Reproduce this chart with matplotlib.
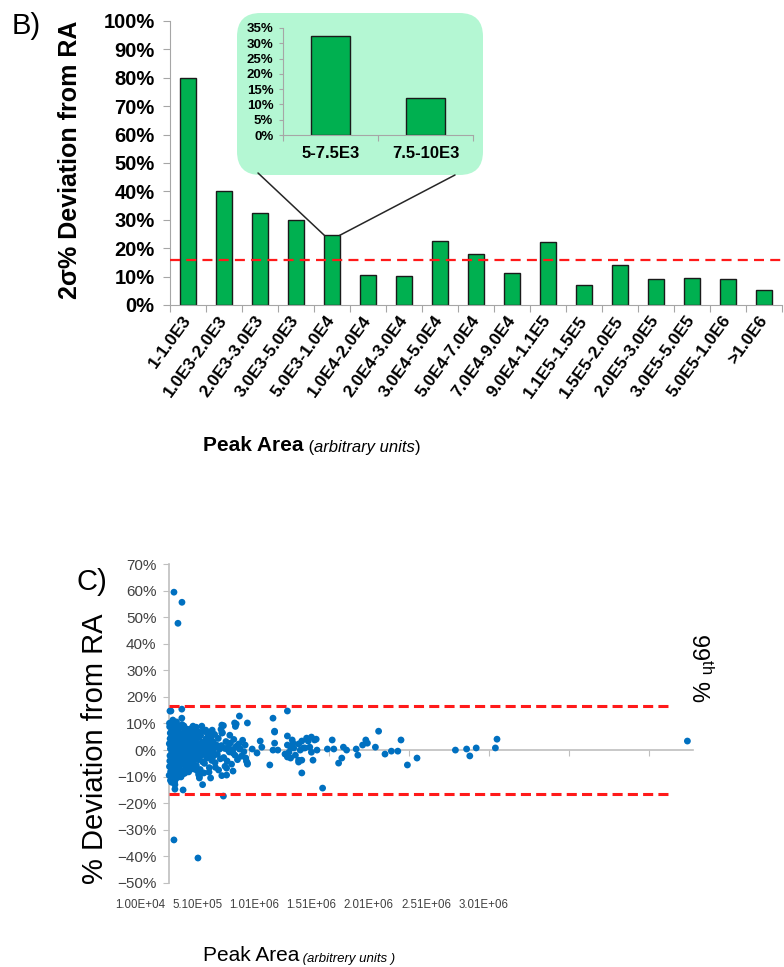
import numpy as np
import matplotlib.pyplot as plt
from matplotlib.patches import FancyBboxPatch, ConnectionPatch
from matplotlib.ticker import PercentFormatter

plt.rcParams['font.family'] = ['Liberation Sans', 'DejaVu Sans']
plt.rcParams['mathtext.fontset'] = 'custom'
plt.rcParams['mathtext.rm'] = 'Liberation Sans'

# ---- panel B data: 2 sigma deviation per peak area bin ----
bins = ["1-1.0E3", "1.0E3-2.0E3", "2.0E3-3.0E3", "3.0E3-5.0E3", "5.0E3-1.0E4",
        "1.0E4-2.0E4", "2.0E4-3.0E4", "3.0E4-5.0E4", "5.0E4-7.0E4", "7.0E4-9.0E4",
        "9.0E4-1.1E5", "1.1E5-1.5E5", "1.5E5-2.0E5", "2.0E5-3.0E5", "3.0E5-5.0E5",
        "5.0E5-1.0E6", ">1.0E6"]
dev_2sigma = [0.80, 0.40, 0.325, 0.30, 0.245, 0.105, 0.103, 0.224, 0.181, 0.111,
              0.222, 0.069, 0.142, 0.092, 0.094, 0.092, 0.054]
threshold_b = 0.16
zoom_bin = 4

inset_bins = ["5-7.5E3", "7.5-10E3"]
inset_dev = [0.324, 0.122]

# ---- panel C data: (peak area in thousands, % deviation from RA) ----
dense_pts = [
    (11, -9.5), (13, -6.2), (14, 8.8), (16, -2.1), (17, 4.3), (19, 0.5), (20, -8.1), (21, 9.6),
    (23, -4.4), (24, 2.7), (26, 6.9), (27, -10.2), (29, -0.8), (30, 3.9), (32, -6.7), (33, 7.8),
    (34, 1.2), (36, -3.3), (37, 9.9), (39, -8.8), (40, 5.4), (41, -1.6), (43, 0.2), (44, -5.2),
    (46, 8.1), (47, -9.3), (49, 3.1), (50, -2.9), (51, 6.1), (53, -7.2), (54, 1.8), (56, -0.4),
    (57, 4.9), (59, -4.8), (60, 9.2), (61, -10.4), (63, 2.2), (64, -6.0), (66, 7.0), (67, -1.1),
    (69, 0.9), (70, -8.4), (71, 5.8), (73, -3.7), (74, 3.4), (76, -5.6), (77, 8.6), (78, -0.1),
    (79, -9.8), (80, 1.5), (12, 2.4), (15, -4.1), (18, 6.4), (22, -1.9), (25, -7.3), (28, 0.6),
    (31, 5.1), (35, -5.9), (38, 2.9), (42, -3.9), (45, 7.4), (48, -0.3), (52, 4.2), (55, -8.9),
    (58, -2.5), (62, 6.6), (65, -4.6), (68, 2.8), (72, -6.8), (75, 0.0), (13, 10.1), (19, -11.4),
    (26, -12.1), (34, 11.3), (46, -11.8), (57, 10.6), (24, -3.0), (36, 3.6), (44, 1.0), (53, -1.4),
    (63, -2.2), (69, 5.0), (20, 1.7), (30, -1.2), (40, -0.6), (50, 0.7), (60, -0.9), (70, 2.0),
    (82, -7.6), (84, 3.0), (86, 6.2), (88, -2.4), (90, 0.8), (92, -5.1), (94, 8.4), (96, -0.7),
    (98, 2.5), (100, -3.5), (102, 5.6), (104, -8.0), (106, 1.1), (108, -1.8), (110, 4.0),
    (112, -6.3), (114, 7.1), (116, 0.3), (118, -4.2), (120, 2.1), (122, -0.5), (124, 5.2),
    (126, -7.0), (128, 1.4), (130, -2.7), (132, 3.5), (134, -5.4), (136, 0.1), (138, 6.6),
    (140, -1.3), (142, 2.9), (144, -3.8), (146, 4.6), (148, -0.2), (150, -6.1), (152, 1.9),
    (154, 3.8), (156, -2.0), (158, 0.6), (160, -4.5), (162, 5.0), (164, -1.0), (166, 2.3),
    (168, -3.1), (85, -10.1), (91, 9.6), (97, -9.0), (103, 9.1), (109, -8.7), (115, -2.8),
    (121, 7.9), (127, 4.4), (133, -8.2), (139, -4.7), (145, 8.0), (151, -5.5), (157, 6.9),
    (163, -7.1), (89, 4.8), (95, -4.9), (101, 1.6), (107, -0.9), (113, 3.3), (119, -1.5),
    (125, -3.4), (131, 0.4), (137, 2.6), (143, -0.6), (149, 1.3), (155, -1.7), (161, 0.2), (167, 4.1),
]
spread_pts = [
    (172, -2.6), (175, 3.9), (178, 0.7), (181, -5.8), (184, 6.1), (187, -0.4), (190, 2.2),
    (193, -3.6), (196, 4.7), (199, -1.2), (202, 1.0), (205, -7.3), (208, 5.5), (211, -2.1),
    (214, 0.5), (217, 3.0), (220, -4.4), (223, 7.2), (226, -0.8), (229, 1.8), (232, -5.0),
    (235, 2.7), (238, -1.5), (241, 4.2), (244, 0.0), (247, -3.0), (250, 6.3), (253, 1.2),
    (256, -2.4), (259, 3.4), (262, -6.6), (265, 0.9), (268, 2.1), (271, -1.0), (274, 4.8),
    (277, -3.9), (280, 1.5), (283, -0.3), (286, 3.1), (289, -2.2), (292, 0.8), (295, 5.9),
    (298, -4.7), (180, 8.6), (195, -9.2), (215, 9.0), (228, -8.6), (185, -7.7), (240, 7.5),
    (260, -8.3), (200, -10.5), (270, 6.8), (190, 7.0),
    (305, 2.0), (312, -1.6), (318, 4.4), (325, 0.3), (331, -3.3), (338, 1.7), (344, 6.5),
    (352, -2.8), (359, 0.6), (366, 3.2), (373, -4.1), (380, 1.1), (387, -0.7), (394, 2.6),
    (401, -5.3), (408, 0.2), (415, 4.0), (422, -1.9), (430, 1.4), (438, -3.6), (446, 2.3),
    (454, 0.5), (462, -2.3), (470, 3.7), (478, -0.6), (486, 1.9), (494, -4.2), (320, -7.5),
    (335, 7.8), (360, -6.1), (390, 5.6), (410, -7.9), (340, -9.6), (300, -6.5), (350, 9.2),
    (425, 8.9),
]
sparse_pts = [
    (41, 59.4), (91, 55.6), (66, 47.7), (41, -33.8), (191, -40.6),
    (16, 14.7), (22, 14.7), (90, 15.4), (90, 12.0), (160, 9.0), (750, 14.7), (660, 12.0),
    (450, 12.8), (500, 10.2), (420, 10.2), (430, 9.8), (340, 9.4), (340, 6.4), (280, 7.5),
    (250, 6.4), (670, 7.1), (670, 6.8), (1320, 7.1), (1460, 3.8),
    (350, -17.3), (970, -14.3), (840, -8.6), (270, -10.5), (220, -13.0), (200, -9.8),
    (98, -15.0), (47, -13.0), (47, -14.7), (370, -9.4), (370, -6.8), (1500, -5.6),
    (1560, -3.0), (500, -5.3), (640, -5.6),
    (590, 1.1), (580, 3.4), (560, -1.1), (530, 0.4), (500, -4.9), (490, -3.0), (450, 0.4),
    (410, -1.1), (380, 0.0), (660, 0.0), (670, 2.6), (690, 0.0), (735, -1.5), (750, -2.6),
    (750, 5.3), (770, 1.1), (785, 2.6), (820, -3.8), (830, 0.0), (860, 0.8), (880, 3.4),
    (900, 4.9), (930, 4.1), (935, 0.0), (1000, 0.4), (270, 4.5),
    (750, 1.9), (760, -0.8), (780, 3.8), (790, 0.8), (800, -1.9), (820, 2.3), (840, 3.4),
    (850, 0.8), (870, 4.5), (890, 1.1), (900, -0.8), (920, 3.8), (840, -3.8), (820, -4.5),
    (910, -3.8), (770, -3.0),
    (1030, 3.8), (1040, 0.4), (1070, -4.9), (1090, -3.0), (1100, 1.1), (1120, 0.0),
    (1180, 0.4), (1190, -1.9), (1220, 1.9), (1240, 3.8), (1250, 2.6), (1300, 1.1),
    (1360, -1.5), (1400, -0.4), (1440, -0.4),
    (1800, 0.0), (1870, 0.4), (1890, -2.2), (1930, 0.8), (2050, 0.8), (2060, 4.1), (3250, 3.4),
]
limit_c = 16.7
c_ticks = [1.0e4, 5.1e5, 1.01e6, 1.51e6, 2.01e6, 2.51e6, 3.01e6]
c_ticklabels = ["1.00E+04", "5.10E+05", "1.01E+06", "1.51E+06", "2.01E+06", "2.51E+06", "3.01E+06"]

GREEN = '#00b050'
GRAY = '#a6a6a6'
RED = '#ff1a1a'
BLUE = '#0070c0'
W, H = 784, 967

fig = plt.figure(figsize=(7.84, 9.67), dpi=100)

# ================= panel B =================
axb = fig.add_axes([170 / W, 662 / H, 612 / W, 284 / H])
axb.set_facecolor('none')
xb = np.arange(len(bins))
axb.bar(xb, dev_2sigma, width=0.42, color=GREEN, edgecolor='#1a1a1a', linewidth=1, zorder=2)
axb.axhline(threshold_b, color=RED, lw=1.6, dashes=(4.5, 2.8), zorder=3, clip_on=False)
axb.set_xlim(-0.5, len(bins) - 0.5)
axb.set_ylim(0, 1)
axb.set_yticks(np.arange(0, 1.01, 0.1))
axb.yaxis.set_major_formatter(PercentFormatter(1.0, decimals=0))
axb.set_xticks(np.arange(-0.5, len(bins), 1), labels=[''] * (len(bins) + 1))
axb.set_xticks(xb, labels=bins, minor=True)
axb.tick_params(axis='x', which='minor', length=0, pad=9)
axb.tick_params(axis='x', which='major', length=5, color=GRAY, direction='out')
axb.tick_params(axis='y', length=5, color=GRAY, pad=6)
for lab in axb.get_xticklabels(minor=True):
    lab.set(rotation=54, ha='right', va='center', rotation_mode='anchor',
            fontweight='bold', fontsize=12.5)
for lab in axb.get_yticklabels():
    lab.set(fontweight='bold', fontsize=14.5)
for s in ['top', 'right']:
    axb.spines[s].set_visible(False)
for s in ['left', 'bottom']:
    axb.spines[s].set_color(GRAY)

fig.text(12 / W, 1 - 26 / H, 'B)', fontsize=21, va='center', ha='left')
fig.text(70 / W, 1 - 160 / H, '2\u03c3% Deviation from RA', rotation=90, fontsize=18,
         fontweight='bold', ha='center', va='center')

tb = fig.text(203 / W, 1 - 451 / H, 'Peak Area', fontsize=15, fontweight='bold',
              va='baseline')
t = axb.annotate(' (', xy=(1, 0), xycoords=tb, va='bottom', fontsize=12)
t = axb.annotate('arbitrary units', xy=(1, 0), xycoords=t, va='bottom', fontsize=12,
                 style='italic')
axb.annotate(')', xy=(1, 0), xycoords=t, va='bottom', fontsize=12)

# inset box
box = FancyBboxPatch((237 / W, 792 / H), 246 / W, 162 / H,
                     boxstyle='round,pad=0,rounding_size=0.03', mutation_aspect=W / H,
                     transform=fig.transFigure, fc='#b4f7d3', ec='none', zorder=-1)
fig.add_artist(box)

for dx, bx, by in [(-0.21, 258, 173), (0.21, 455, 175)]:
    con = ConnectionPatch(xyA=(zoom_bin + dx, dev_2sigma[zoom_bin]), coordsA=axb.transData,
                          xyB=(bx / W, 1 - by / H), coordsB=fig.transFigure,
                          color='#262626', lw=1.1)
    fig.add_artist(con)

axi = fig.add_axes([283 / W, 832 / H, 190 / W, 107 / H])
axi.set_facecolor('none')
xi = np.arange(len(inset_bins))
axi.bar(xi, inset_dev, width=0.41, color=GREEN, edgecolor='#1a1a1a', linewidth=1, zorder=2)
axi.set_xlim(-0.5, 1.5)
axi.set_ylim(0, 0.35)
axi.set_yticks(np.arange(0, 0.351, 0.05))
axi.yaxis.set_major_formatter(PercentFormatter(1.0, decimals=0))
axi.set_xticks([-0.5, 0.5, 1.5], labels=['', '', ''])
axi.set_xticks(xi, labels=inset_bins, minor=True)
axi.tick_params(axis='x', which='minor', length=0, pad=8, labelsize=12)
axi.tick_params(axis='x', which='major', length=4, color=GRAY)
axi.tick_params(axis='y', length=3, color=GRAY, labelsize=9.5, pad=4)
for lab in axi.get_xticklabels(minor=True) + axi.get_yticklabels():
    lab.set_fontweight('bold')
for s in ['top', 'right']:
    axi.spines[s].set_visible(False)
for s in ['left', 'bottom']:
    axi.spines[s].set_color(GRAY)

# ================= panel C =================
axc = fig.add_axes([169 / W, 84 / H, 524 / W, 319 / H])
all_pts = dense_pts + spread_pts + sparse_pts
area = np.array([p[0] for p in all_pts]) * 1e3
dev = np.array([p[1] for p in all_pts])
axc.scatter(area, dev, s=24, color=BLUE, edgecolors='none', zorder=3, clip_on=False)
axc.plot([1e4, 3.13e6], [limit_c, limit_c], color=RED, lw=2.2, dashes=(3.3, 1.7), zorder=4)
axc.plot([1e4, 3.13e6], [-limit_c, -limit_c], color=RED, lw=2.2, dashes=(3.3, 1.7), zorder=4)
axc.set_xlim(1e4, 3.285e6)
axc.set_ylim(-50, 70)
axc.set_yticks(np.arange(-50, 71, 10))
axc.yaxis.set_major_formatter(PercentFormatter(100, decimals=0))
axc.spines['bottom'].set_position(('data', 0))
for s in ['top', 'right']:
    axc.spines[s].set_visible(False)
for s in ['left', 'bottom']:
    axc.spines[s].set_color('#bfbfbf')
    axc.spines[s].set_linewidth(1.2)
axc.set_xticks(c_ticks)
axc.tick_params(axis='x', labelbottom=False, length=4, color='#bfbfbf')
axc.tick_params(axis='y', length=4, color='#bfbfbf', labelsize=11, labelcolor='#404040', pad=5)

# in the published panel the x tick labels sit on a compressed row below the plot
lab_left, lab_right = 100, 530
lab_x0, lab_step = 140, 57.2
axl = fig.add_axes([lab_left / W, (H - 898) / H, (lab_right - lab_left) / W, 0.0001])
axl.set_xlim(1e4 + (lab_left - lab_x0) / lab_step * 5e5,
             1e4 + (lab_right - lab_x0) / lab_step * 5e5)
axl.set_xticks(c_ticks, labels=c_ticklabels)
axl.set_yticks([])
axl.patch.set_visible(False)
for s in axl.spines.values():
    s.set_visible(False)
axl.tick_params(axis='x', length=0, pad=1, labelsize=8.3, labelcolor='#404040')

fig.text(77 / W, 1 - 582 / H, 'C)', fontsize=21, va='center', ha='left')
fig.text(95 / W, 1 - 749 / H, '% Deviation from RA', rotation=90, fontsize=21,
         ha='center', va='center')
fig.text(699 / W, 1 - 668 / H, '99$^{\\rm th}$ %', rotation=270, fontsize=17,
         ha='center', va='center')

tc = fig.text(203 / W, 1 - 961 / H, 'Peak Area', fontsize=15, va='baseline')
axc.annotate(' (arbitrery units )', xy=(1, 0), xycoords=tc, va='bottom', fontsize=9.5,
             style='italic')

fig.savefig('out.png', dpi=100)
